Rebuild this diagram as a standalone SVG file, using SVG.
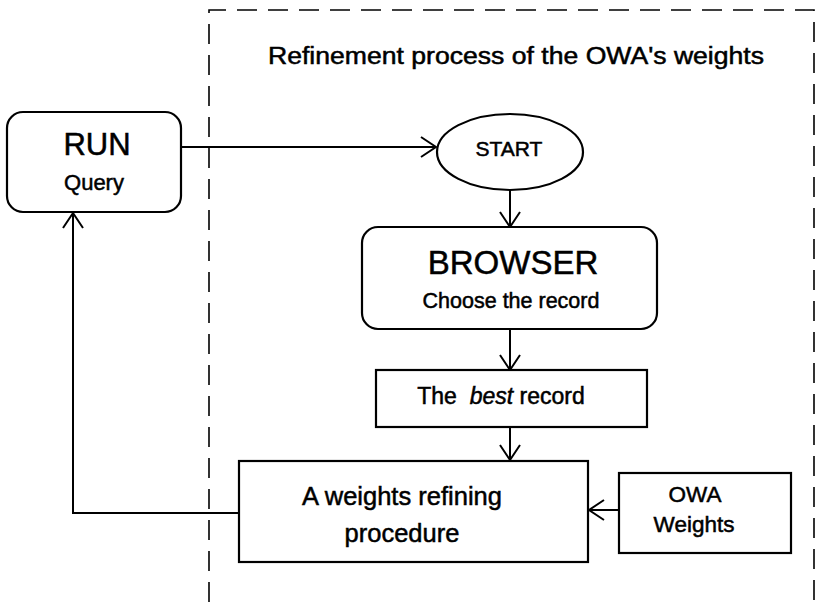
<svg xmlns="http://www.w3.org/2000/svg" width="817" height="602" viewBox="0 0 817 602">
<style>
.box{fill:#fff;stroke:#000;stroke-width:2.2}
.t{font-family:"Liberation Sans",Arial,sans-serif;fill:#000;text-anchor:middle;stroke:#000;stroke-width:0.5}
.c{fill:none;stroke:#000;stroke-width:2}
.dash{fill:none;stroke:#000;stroke-width:1.6;stroke-dasharray:20 11}
</style>
<defs>
<marker id="ah" markerWidth="20" markerHeight="22" refX="16" refY="11" orient="auto" markerUnits="userSpaceOnUse">
<polyline points="1,1 16,11 1,21" fill="none" stroke="#000" stroke-width="2"/>
</marker>
</defs>
<path class="dash" d="M209,602 V10 H814 V602"/>
<text class="t" x="516" y="64" font-size="23" textLength="496" lengthAdjust="spacingAndGlyphs">Refinement process of the OWA's weights</text>
<g id="connectors">
<line class="c" x1="181" y1="147" x2="436" y2="147" marker-end="url(#ah)"/>
<line class="c" x1="510" y1="190" x2="510" y2="227" marker-end="url(#ah)"/>
<line class="c" x1="510" y1="329" x2="510" y2="370" marker-end="url(#ah)"/>
<line class="c" x1="510" y1="427" x2="510" y2="460" marker-end="url(#ah)"/>
<line class="c" x1="619" y1="510" x2="589" y2="510" marker-end="url(#ah)"/>
<polyline class="c" points="239,513 73,513 73,213" marker-end="url(#ah)"/>
</g>
<g id="run">
<rect class="box" x="7" y="112" width="174" height="100" rx="16"/>
<text class="t" x="97" y="155" font-size="31">RUN</text>
<text class="t" x="94" y="190" font-size="22">Query</text>
</g>
<g id="start">
<ellipse class="box" cx="510" cy="152" rx="73" ry="38"/>
<text class="t" x="509" y="156" font-size="21">START</text>
</g>
<g id="browser">
<rect class="box" x="362" y="227" width="295" height="102" rx="16"/>
<text class="t" x="513" y="274" font-size="33">BROWSER</text>
<text class="t" x="511" y="308" font-size="21.5">Choose the record</text>
</g>
<g id="best">
<rect class="box" x="376" y="370" width="271" height="57"/>
<text class="t" x="501" y="404" font-size="23" xml:space="preserve">The  <tspan font-style="italic">best</tspan> record</text>
</g>
<g id="refine">
<rect class="box" x="239" y="461" width="349" height="101"/>
<text class="t" x="402" y="505" font-size="25.5">A weights refining</text>
<text class="t" x="402" y="542" font-size="25.5">procedure</text>
</g>
<g id="owa">
<rect class="box" x="619" y="473" width="172" height="80"/>
<text class="t" x="695" y="502" font-size="22.5">OWA</text>
<text class="t" x="694" y="532" font-size="22.5">Weights</text>
</g>
</svg>
